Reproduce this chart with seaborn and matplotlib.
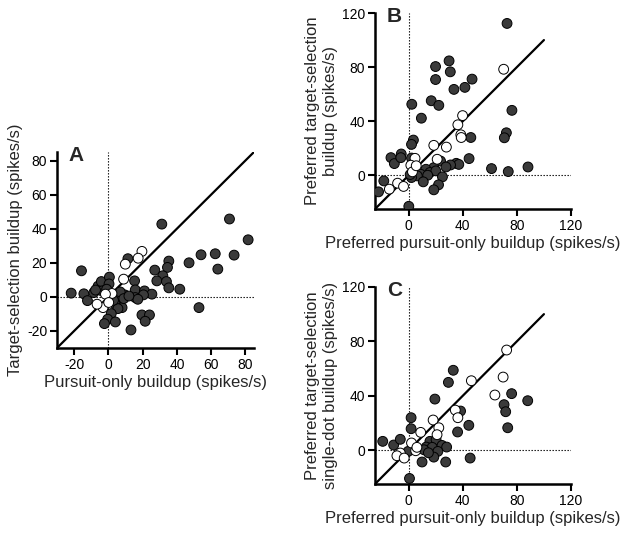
import matplotlib
matplotlib.use("Agg")
import matplotlib.pyplot as plt
import numpy as np
import pandas as pd
import seaborn as sns

sns.set_theme(style="white")
plt.rcParams["font.family"] = ["Liberation Sans", "DejaVu Sans"]
plt.rcParams["axes.unicode_minus"] = False

# Panel A: pursuit-only vs target-selection buildup
a_filled_x = [31.2, 70.7, 81.6, 54.1, 62.4, 73.4, 63.9, 47.1, 35.3, 34.5, 27.1, 31.8, 28.3, 33.9,
              35.3, 41.7, 52.9, 11.4, -15.7, -21.7, -14.3, -12.2, -8.5, -6.0, -4.1, 0.6, 0.4,
              -3.7, 15.3, 15.7, 21.1, 25.4, 20.5, 15.7, 9.5, 6.4, 4.1, 8.0, 5.6, 1.7, -0.4,
              -2.3, 4.1, 13.2, 19.6, 24.0, 21.5, 17.2, 6.9, 9.0, -1.0, -7.5, 3.0, 12.0]
a_filled_y = [42.7, 45.7, 33.5, 24.7, 25.3, 24.5, 16.3, 20.0, 21.0, 17.3, 15.7, 12.4, 9.4, 9.0,
              5.3, 4.5, -6.3, 22.4, 15.3, 2.2, 1.8, -2.2, 2.5, 6.3, 9.0, 11.6, 7.6,
              3.5, 9.4, 4.1, 3.5, 1.6, 1.2, -0.4, 1.2, -0.4, -4.3, -6.3, -6.9, -9.8, -13.1,
              -15.7, -14.7, -19.4, -10.6, -10.6, -14.3, -1.4, 2.9, -1.0, 4.5, 4.0, -2.0, 0.5]
a_open_x = [19.6, 17.4, 9.9, 8.9, 2.1, -1.7, -3.1, -6.6, 0.2]
a_open_y = [26.7, 22.7, 19.2, 10.4, 2.0, 1.6, -6.3, -4.3, -3.3]

# Panel B: preferred pursuit-only vs preferred target-selection buildup
b_filled_x = [72.7, 19.8, 29.8, 30.7, 19.8, 46.8, 33.4, 41.5, 16.6, 22.2, 2.2, 9.3, 76.3, 72.2,
              70.7, 45.9, 3.4, 2.0, -13.2, -5.6, -10.7, -5.9, 2.0, 44.6, 23.5, 35.1, 37.0,
              30.9, 27.5, 61.2, 73.6, 88.2, 18.5, 12.7, 15.6, 20.0, 8.8, 6.3, 2.0, 14.0,
              10.7, 24.9, 22.0, 18.5, -18.5, -22.4, 0.0, 1.0]
b_filled_y = [112.3, 80.4, 84.6, 76.5, 70.8, 71.1, 63.5, 65.0, 55.1, 51.7, 52.5, 42.2, 48.0, 31.4,
              27.7, 27.9, 26.0, 22.8, 13.0, 15.7, 8.6, 13.0, 12.7, 12.3, 10.5, 8.8, 8.0,
              7.6, 6.1, 4.9, 2.7, 6.1, 5.6, 4.4, 2.0, 3.2, 0.7, -0.5, -1.7, 0.0,
              -4.9, -1.2, -7.1, -10.8, -4.2, -12.3, -23.0, 0.5]
b_open_x = [70.2, 39.8, 36.3, 38.5, 38.8, 18.5, 27.8, 4.6, 21.0, 1.5, 2.7, -8.3, -14.4, -3.9, 5.5]
b_open_y = [78.4, 44.1, 37.3, 29.9, 27.9, 22.1, 20.8, 12.5, 11.8, 7.4, 2.5, -5.9, -10.3, -8.3, 7.0]

# Panel C: preferred pursuit-only vs preferred single-dot target-selection buildup
c_filled_x = [32.9, 29.3, 19.3, 76.1, 88.0, 70.5, 71.7, 73.2, 38.3, 44.4, 36.1, 1.7, 1.7, -19.3,
              -11.2, -6.3, 15.6, 20.2, 24.6, 28.0, 12.9, 17.3, 11.2, 21.5, 18.5, 9.8, 27.3,
              45.4, 0.5, -0.5, 14.5]
c_filled_y = [58.7, 49.8, 37.5, 41.5, 36.3, 33.4, 28.2, 16.4, 28.7, 18.2, 13.3, 23.8, 15.7, 6.4,
              3.7, 7.9, 6.4, 7.6, 3.4, 2.2, 2.2, 2.0, 0.2, -1.0, -5.2, -8.8, -8.8,
              -5.9, -20.9, -1.0, -2.0]
c_open_x = [72.4, 46.3, 69.8, 63.7, 34.4, 36.3, 18.0, 22.2, 8.8, 20.9, 2.0, 5.1, -6.3, -8.8, -3.4, 6.0]
c_open_y = [73.6, 51.0, 53.7, 40.5, 29.4, 23.8, 22.1, 16.4, 13.0, 11.3, 5.2, -0.5, -2.2, -4.2, -5.9, 2.0]


def _frame(fx, fy, ox, oy):
    return pd.DataFrame({
        "x": fx + ox,
        "y": fy + oy,
        "kind": ["filled"] * len(fx) + ["open"] * len(ox),
    })


def draw_panel(ax, df, lo, hi, diag_hi, ticks, letter, xlabel, ylabel):
    ax.axvline(0, color="black", linewidth=0.8, linestyle=(0, (1.2, 1.5)), zorder=1)
    ax.axhline(0, color="black", linewidth=0.8, linestyle=(0, (1.2, 1.5)), zorder=1)
    ax.plot([lo, diag_hi], [lo, diag_hi], color="black", linewidth=1.6, zorder=2)
    sns.scatterplot(
        data=df, x="x", y="y", hue="kind",
        palette={"filled": "#3a3a3a", "open": "white"},
        edgecolor="black", linewidth=0.7, s=50, legend=False, ax=ax, zorder=3,
    )
    ax.set_xlim(lo, hi)
    ax.set_ylim(lo, hi)
    ax.set_xticks(ticks)
    ax.set_yticks(ticks)
    ax.set_xlabel(xlabel, fontsize=12, labelpad=2)
    ax.set_ylabel(ylabel, fontsize=12, labelpad=3)
    ax.tick_params(axis="both", direction="out", length=5, width=1.5, labelsize=10,
                   color="black", labelcolor="black", bottom=True, left=True, pad=2)
    for side in ("top", "right"):
        ax.spines[side].set_visible(False)
    for side in ("left", "bottom"):
        ax.spines[side].set_linewidth(1.8)
        ax.spines[side].set_color("black")
    ax.text(0.06, 1.03, letter, transform=ax.transAxes, fontsize=15, fontweight="bold",
            va="top", ha="left")


fig = plt.figure(figsize=(6.24, 5.34), dpi=100)
ax_a = fig.add_axes([0.0913, 0.3483, 0.3157, 0.367])
ax_b = fig.add_axes([0.601, 0.6086, 0.314, 0.367])
ax_c = fig.add_axes([0.601, 0.0936, 0.314, 0.369])

draw_panel(ax_a, _frame(a_filled_x, a_filled_y, a_open_x, a_open_y), -30, 85, 85,
           [-20, 0, 20, 40, 60, 80], "A",
           "Pursuit-only buildup (spikes/s)", "Target-selection buildup (spikes/s)")
draw_panel(ax_b, _frame(b_filled_x, b_filled_y, b_open_x, b_open_y), -25, 120, 100,
           [0, 40, 80, 120], "B",
           "Preferred pursuit-only buildup (spikes/s)",
           "Preferred target-selection\nbuildup (spikes/s)")
draw_panel(ax_c, _frame(c_filled_x, c_filled_y, c_open_x, c_open_y), -25, 120, 100,
           [0, 40, 80, 120], "C",
           "Preferred pursuit-only buildup (spikes/s)",
           "Preferred target-selection\nsingle-dot buildup (spikes/s)")

fig.savefig("out.png", dpi=100)
